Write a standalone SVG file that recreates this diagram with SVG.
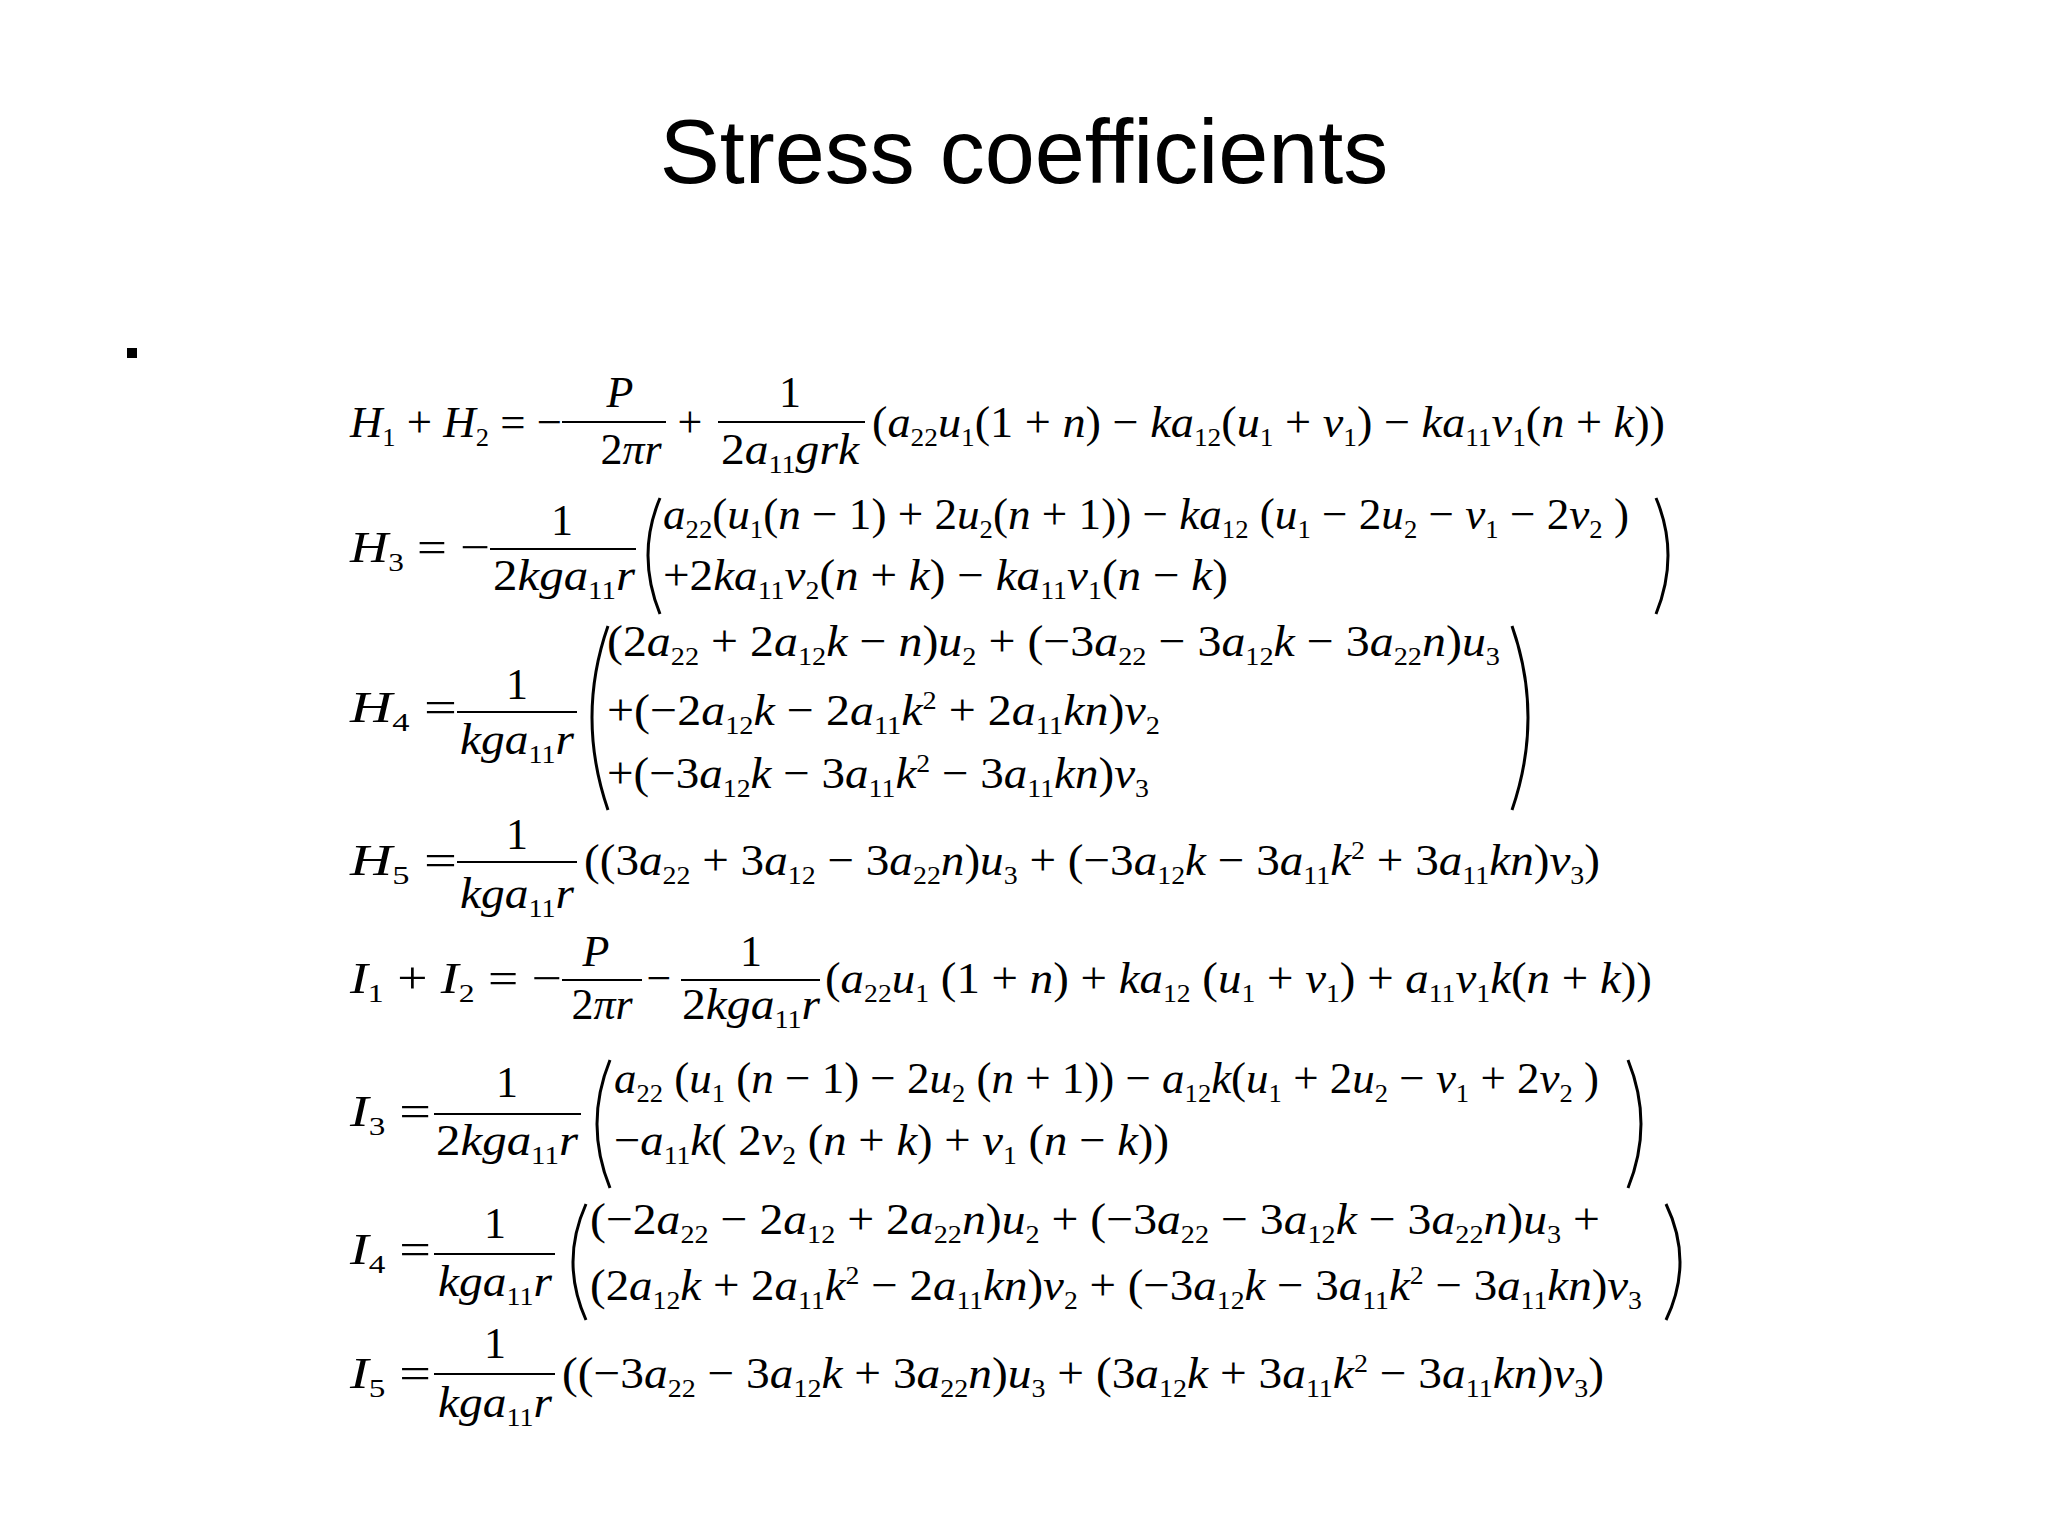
<svg xmlns="http://www.w3.org/2000/svg" width="2048" height="1536" viewBox="0 0 2048 1536">
<style>
.t{font-family:"Liberation Sans",Arial,sans-serif;font-size:90px;fill:#000}
.m{font-family:"Liberation Serif","Times New Roman",serif;font-size:44px;font-style:italic;fill:#000}
.r{font-style:normal}
.s{font-size:26px;font-style:normal;baseline-shift:-9px}
.p{font-size:26px;font-style:normal;baseline-shift:16px}
.c{text-anchor:middle}
.bar{stroke:#000;stroke-width:2;fill:none}
.par{stroke:#000;stroke-width:3;fill:none}
</style>
<rect width="2048" height="1536" fill="#fff"/>
<text class="t c" x="1024" y="183">Stress coefficients</text>
<rect x="127" y="348" width="10" height="10" fill="#000"/>

<g id="eq1">
<text class="m" x="350" y="437" textLength="212" lengthAdjust="spacingAndGlyphs">H<tspan class="s">1</tspan><tspan class="r"> + </tspan>H<tspan class="s">2</tspan><tspan class="r"> = −</tspan></text>
<line class="bar" x1="562" y1="422" x2="666" y2="422"/>
<text class="m c" x="620" y="407">P</text>
<text class="m c" x="631" y="464"><tspan class="r">2</tspan>πr</text>
<text class="m r c" x="690" y="437">+</text>
<line class="bar" x1="718" y1="422" x2="865" y2="422"/>
<text class="m r c" x="790" y="407">1</text>
<text class="m c" x="790" y="464" textLength="138" lengthAdjust="spacingAndGlyphs"><tspan class="r">2</tspan>a<tspan class="s">11</tspan>grk</text>
<text class="m" x="872" y="437" textLength="793" lengthAdjust="spacingAndGlyphs"><tspan class="r">(</tspan>a<tspan class="s">22</tspan>u<tspan class="s">1</tspan><tspan class="r">(1 + </tspan>n<tspan class="r">) − </tspan>ka<tspan class="s">12</tspan><tspan class="r">(</tspan>u<tspan class="s">1</tspan><tspan class="r"> + </tspan>v<tspan class="s">1</tspan><tspan class="r">) − </tspan>ka<tspan class="s">11</tspan>v<tspan class="s">1</tspan><tspan class="r">(</tspan>n<tspan class="r"> + </tspan>k<tspan class="r">))</tspan></text>
</g>

<g id="eq2">
<text class="m" x="350" y="562" textLength="140" lengthAdjust="spacingAndGlyphs">H<tspan class="s">3</tspan><tspan class="r"> = −</tspan></text>
<line class="bar" x1="490" y1="549" x2="636" y2="549"/>
<text class="m r c" x="562" y="535">1</text>
<text class="m c" x="564" y="590" textLength="142" lengthAdjust="spacingAndGlyphs"><tspan class="r">2</tspan>kga<tspan class="s">11</tspan>r</text>
<path class="par" d="M660,498 Q636,555 660,614"/>
<text class="m" x="663" y="529" textLength="966" lengthAdjust="spacingAndGlyphs">a<tspan class="s">22</tspan><tspan class="r">(</tspan>u<tspan class="s">1</tspan><tspan class="r">(</tspan>n<tspan class="r"> − 1) + 2</tspan>u<tspan class="s">2</tspan><tspan class="r">(</tspan>n<tspan class="r"> + 1)) − </tspan>ka<tspan class="s">12</tspan><tspan class="r"> (</tspan>u<tspan class="s">1</tspan><tspan class="r"> − 2</tspan>u<tspan class="s">2</tspan><tspan class="r"> − </tspan>v<tspan class="s">1</tspan><tspan class="r"> − 2</tspan>v<tspan class="s">2</tspan><tspan class="r"> )</tspan></text>
<text class="m" x="663" y="590" textLength="565" lengthAdjust="spacingAndGlyphs"><tspan class="r">+2</tspan>ka<tspan class="s">11</tspan>v<tspan class="s">2</tspan><tspan class="r">(</tspan>n<tspan class="r"> + </tspan>k<tspan class="r">) − </tspan>ka<tspan class="s">11</tspan>v<tspan class="s">1</tspan><tspan class="r">(</tspan>n<tspan class="r"> − </tspan>k<tspan class="r">)</tspan></text>
<path class="par" d="M1656,498 Q1680,555 1656,614"/>
</g>

<g id="eq3">
<text class="m" x="350" y="722" textLength="107" lengthAdjust="spacingAndGlyphs">H<tspan class="s">4</tspan><tspan class="r"> =</tspan></text>
<line class="bar" x1="457" y1="712" x2="577" y2="712"/>
<text class="m r c" x="517" y="699">1</text>
<text class="m c" x="517" y="754" textLength="114" lengthAdjust="spacingAndGlyphs">kga<tspan class="s">11</tspan>r</text>
<path class="par" d="M608,626 Q576,717 608,810"/>
<text class="m" x="607" y="656" textLength="893" lengthAdjust="spacingAndGlyphs"><tspan class="r">(2</tspan>a<tspan class="s">22</tspan><tspan class="r"> + 2</tspan>a<tspan class="s">12</tspan>k<tspan class="r"> − </tspan>n<tspan class="r">)</tspan>u<tspan class="s">2</tspan><tspan class="r"> + (−3</tspan>a<tspan class="s">22</tspan><tspan class="r"> − 3</tspan>a<tspan class="s">12</tspan>k<tspan class="r"> − 3</tspan>a<tspan class="s">22</tspan>n<tspan class="r">)</tspan>u<tspan class="s">3</tspan></text>
<text class="m" x="607" y="725" textLength="553" lengthAdjust="spacingAndGlyphs"><tspan class="r">+(−2</tspan>a<tspan class="s">12</tspan>k<tspan class="r"> − 2</tspan>a<tspan class="s">11</tspan>k<tspan class="p">2</tspan><tspan class="r"> + 2</tspan>a<tspan class="s">11</tspan>kn<tspan class="r">)</tspan>v<tspan class="s">2</tspan></text>
<text class="m" x="607" y="788" textLength="542" lengthAdjust="spacingAndGlyphs"><tspan class="r">+(−3</tspan>a<tspan class="s">12</tspan>k<tspan class="r"> − 3</tspan>a<tspan class="s">11</tspan>k<tspan class="p">2</tspan><tspan class="r"> − 3</tspan>a<tspan class="s">11</tspan>kn<tspan class="r">)</tspan>v<tspan class="s">3</tspan></text>
<path class="par" d="M1512,626 Q1544,717 1512,810"/>
</g>

<g id="eq4">
<text class="m" x="350" y="875" textLength="107" lengthAdjust="spacingAndGlyphs">H<tspan class="s">5</tspan><tspan class="r"> =</tspan></text>
<line class="bar" x1="457" y1="862" x2="577" y2="862"/>
<text class="m r c" x="517" y="849">1</text>
<text class="m c" x="517" y="908" textLength="114" lengthAdjust="spacingAndGlyphs">kga<tspan class="s">11</tspan>r</text>
<text class="m" x="584" y="875" textLength="1016" lengthAdjust="spacingAndGlyphs"><tspan class="r">((3</tspan>a<tspan class="s">22</tspan><tspan class="r"> + 3</tspan>a<tspan class="s">12</tspan><tspan class="r"> − 3</tspan>a<tspan class="s">22</tspan>n<tspan class="r">)</tspan>u<tspan class="s">3</tspan><tspan class="r"> + (−3</tspan>a<tspan class="s">12</tspan>k<tspan class="r"> − 3</tspan>a<tspan class="s">11</tspan>k<tspan class="p">2</tspan><tspan class="r"> + 3</tspan>a<tspan class="s">11</tspan>kn<tspan class="r">)</tspan>v<tspan class="s">3</tspan><tspan class="r">)</tspan></text>
</g>

<g id="eq5">
<text class="m" x="350" y="993" textLength="212" lengthAdjust="spacingAndGlyphs">I<tspan class="s">1</tspan><tspan class="r"> + </tspan>I<tspan class="s">2</tspan><tspan class="r"> = −</tspan></text>
<line class="bar" x1="562" y1="980" x2="642" y2="980"/>
<text class="m c" x="596" y="966">P</text>
<text class="m c" x="602" y="1019"><tspan class="r">2</tspan>πr</text>
<text class="m r c" x="659" y="993">−</text>
<line class="bar" x1="681" y1="980" x2="820" y2="980"/>
<text class="m r c" x="751" y="966">1</text>
<text class="m c" x="751" y="1019" textLength="138" lengthAdjust="spacingAndGlyphs"><tspan class="r">2</tspan>kga<tspan class="s">11</tspan>r</text>
<text class="m" x="825" y="993" textLength="827" lengthAdjust="spacingAndGlyphs"><tspan class="r">(</tspan>a<tspan class="s">22</tspan>u<tspan class="s">1</tspan><tspan class="r"> (1 + </tspan>n<tspan class="r">) + </tspan>ka<tspan class="s">12</tspan><tspan class="r"> (</tspan>u<tspan class="s">1</tspan><tspan class="r"> + </tspan>v<tspan class="s">1</tspan><tspan class="r">) + </tspan>a<tspan class="s">11</tspan>v<tspan class="s">1</tspan>k<tspan class="r">(</tspan>n<tspan class="r"> + </tspan>k<tspan class="r">))</tspan></text>
</g>

<g id="eq6">
<text class="m" x="350" y="1126" textLength="81" lengthAdjust="spacingAndGlyphs">I<tspan class="s">3</tspan><tspan class="r"> =</tspan></text>
<line class="bar" x1="434" y1="1114" x2="581" y2="1114"/>
<text class="m r c" x="507" y="1097">1</text>
<text class="m c" x="507" y="1155" textLength="142" lengthAdjust="spacingAndGlyphs"><tspan class="r">2</tspan>kga<tspan class="s">11</tspan>r</text>
<path class="par" d="M610,1060 Q584,1124 610,1188"/>
<text class="m" x="614" y="1093" textLength="985" lengthAdjust="spacingAndGlyphs">a<tspan class="s">22</tspan><tspan class="r"> (</tspan>u<tspan class="s">1</tspan><tspan class="r"> (</tspan>n<tspan class="r"> − 1) − 2</tspan>u<tspan class="s">2</tspan><tspan class="r"> (</tspan>n<tspan class="r"> + 1)) − </tspan>a<tspan class="s">12</tspan>k<tspan class="r">(</tspan>u<tspan class="s">1</tspan><tspan class="r"> + 2</tspan>u<tspan class="s">2</tspan><tspan class="r"> − </tspan>v<tspan class="s">1</tspan><tspan class="r"> + 2</tspan>v<tspan class="s">2</tspan><tspan class="r"> )</tspan></text>
<text class="m" x="614" y="1155" textLength="555" lengthAdjust="spacingAndGlyphs"><tspan class="r">−</tspan>a<tspan class="s">11</tspan>k<tspan class="r">( 2</tspan>v<tspan class="s">2</tspan><tspan class="r"> (</tspan>n<tspan class="r"> + </tspan>k<tspan class="r">) + </tspan>v<tspan class="s">1</tspan><tspan class="r"> (</tspan>n<tspan class="r"> − </tspan>k<tspan class="r">))</tspan></text>
<path class="par" d="M1628,1060 Q1654,1124 1628,1188"/>
</g>

<g id="eq7">
<text class="m" x="350" y="1264" textLength="81" lengthAdjust="spacingAndGlyphs">I<tspan class="s">4</tspan><tspan class="r"> =</tspan></text>
<line class="bar" x1="434" y1="1254" x2="555" y2="1254"/>
<text class="m r c" x="495" y="1238">1</text>
<text class="m c" x="495" y="1296" textLength="114" lengthAdjust="spacingAndGlyphs">kga<tspan class="s">11</tspan>r</text>
<path class="par" d="M586,1204 Q560,1262 586,1320"/>
<text class="m" x="590" y="1234" textLength="1010" lengthAdjust="spacingAndGlyphs"><tspan class="r">(−2</tspan>a<tspan class="s">22</tspan><tspan class="r"> − 2</tspan>a<tspan class="s">12</tspan><tspan class="r"> + 2</tspan>a<tspan class="s">22</tspan>n<tspan class="r">)</tspan>u<tspan class="s">2</tspan><tspan class="r"> + (−3</tspan>a<tspan class="s">22</tspan><tspan class="r"> − 3</tspan>a<tspan class="s">12</tspan>k<tspan class="r"> − 3</tspan>a<tspan class="s">22</tspan>n<tspan class="r">)</tspan>u<tspan class="s">3</tspan><tspan class="r"> +</tspan></text>
<text class="m" x="590" y="1300" textLength="1052" lengthAdjust="spacingAndGlyphs"><tspan class="r">(2</tspan>a<tspan class="s">12</tspan>k<tspan class="r"> + 2</tspan>a<tspan class="s">11</tspan>k<tspan class="p">2</tspan><tspan class="r"> − 2</tspan>a<tspan class="s">11</tspan>kn<tspan class="r">)</tspan>v<tspan class="s">2</tspan><tspan class="r"> + (−3</tspan>a<tspan class="s">12</tspan>k<tspan class="r"> − 3</tspan>a<tspan class="s">11</tspan>k<tspan class="p">2</tspan><tspan class="r"> − 3</tspan>a<tspan class="s">11</tspan>kn<tspan class="r">)</tspan>v<tspan class="s">3</tspan></text>
<path class="par" d="M1666,1204 Q1694,1262 1666,1320"/>
</g>

<g id="eq8">
<text class="m" x="350" y="1388" textLength="81" lengthAdjust="spacingAndGlyphs">I<tspan class="s">5</tspan><tspan class="r"> =</tspan></text>
<line class="bar" x1="434" y1="1374" x2="555" y2="1374"/>
<text class="m r c" x="495" y="1358">1</text>
<text class="m c" x="495" y="1417" textLength="114" lengthAdjust="spacingAndGlyphs">kga<tspan class="s">11</tspan>r</text>
<text class="m" x="562" y="1388" textLength="1042" lengthAdjust="spacingAndGlyphs"><tspan class="r">((−3</tspan>a<tspan class="s">22</tspan><tspan class="r"> − 3</tspan>a<tspan class="s">12</tspan>k<tspan class="r"> + 3</tspan>a<tspan class="s">22</tspan>n<tspan class="r">)</tspan>u<tspan class="s">3</tspan><tspan class="r"> + (3</tspan>a<tspan class="s">12</tspan>k<tspan class="r"> + 3</tspan>a<tspan class="s">11</tspan>k<tspan class="p">2</tspan><tspan class="r"> − 3</tspan>a<tspan class="s">11</tspan>kn<tspan class="r">)</tspan>v<tspan class="s">3</tspan><tspan class="r">)</tspan></text>
</g>
</svg>
